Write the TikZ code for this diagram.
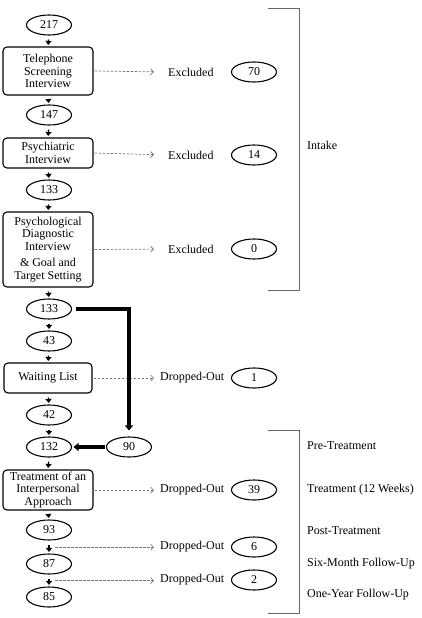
\documentclass[tikz,border=0pt]{standalone}
\usepackage{fontspec}
\setmainfont{Liberation Serif}
\usepackage{tikz}
\usetikzlibrary{shapes.geometric,arrows.meta,positioning,calc}

\begin{document}
\begin{tikzpicture}[
    x=1pt, y=-1pt,
    every node/.style={font=\fontsize{12}{12.5}\selectfont},
    count/.style={ellipse, draw, line width=1.1pt, minimum width=45pt, minimum height=20pt, inner sep=0pt},
    box/.style={rectangle, draw, rounded corners=4pt, line width=1.1pt, minimum width=90pt, align=center, inner sep=1pt},
    label/.style={inner sep=0pt, anchor=west},
    flow/.style={-{Triangle[length=4pt,width=6pt]}, line width=1.3pt, shorten <=4pt, shorten >=1.5pt},
    drop/.style={-{Straight Barb[length=3pt,width=6pt]}, black!55, dashed, dash pattern=on 2.5pt off 1.5pt, line width=0.7pt},
    thick arrow/.style={-{Triangle[length=5pt,width=8pt]}, line width=3.5pt},
    bracket/.style={black!60, line width=0.9pt}
]
\useasboundingbox (0,0) rectangle (422,618);

% main column
\node[count] (n217) at (49,25) {217};
\node[box, minimum height=48pt] (tel) at (48,71) {Telephone\\Screening\\Interview};
\node[count] (n147) at (49,115) {147};
\node[box, minimum height=30pt] (psy) at (48,153) {Psychiatric\\Interview};
\node[count] (n133a) at (49,190) {133};
\node[box, minimum height=75pt] (diag) at (48,249.5) {Psychological\\Diagnostic\\Interview\\[4pt]\& Goal and\\Target Setting};
\node[count] (n133b) at (49,309) {133};
\node[count] (n43) at (49,341) {43};
\node[box, minimum height=30pt, minimum width=88pt] (wait) at (48,378) {Waiting List};
\node[count] (n42) at (49,415) {42};
\node[count] (n132) at (49,447) {132};
\node[count] (n90) at (129,447) {90};
\node[box, minimum height=40pt] (treat) at (48,490) {Treatment of an\\Interpersonal\\Approach};
\node[count] (n93) at (49,530) {93};
\node[count] (n87) at (49,564) {87};
\node[count] (n85) at (49,597) {85};

\foreach \a/\b in {n217/tel, tel/n147, n147/psy, psy/n133a, n133a/diag, diag/n133b,
    n133b/n43, n43/wait, wait/n42, n42/n132, n132/treat, treat/n93, n93/n87, n87/n85}
    \draw[flow] (\a.south) -- (\b.north);

\coordinate (s1) at ($(n93.south)!0.5!(n87.north)$);
\coordinate (s2) at ($(n87.south)!0.5!(n85.north)$);

% exclusions
\node[label] (ex1) at (168,72) {Excluded};
\node[label] (ex2) at (168,155) {Excluded};
\node[label] (ex3) at (168,249) {Excluded};
\node[count] (c70) at (254,72) {70};
\node[count] (c14) at (254,155) {14};
\node[count] (c0) at (254,249) {0};

\node[label] (do1) at (160,378) {Dropped-Out};
\node[label] (do2) at (160,490) {Dropped-Out};
\node[label] (do3) at (160,547) {Dropped-Out};
\node[label] (do4) at (160,580) {Dropped-Out};
\node[count] (c1) at (254,378) {1};
\node[count] (c39) at (254,490) {39};
\node[count] (c6) at (254,547) {6};
\node[count] (c2) at (254,580) {2};

\draw[drop, shorten <=1pt, shorten >=14pt] (tel.east) -- (ex1.west);
\draw[drop, shorten <=1pt, shorten >=14pt] (psy.east) -- (ex2.west);
\draw[drop, shorten <=1pt, shorten >=14pt] (diag.east) -- (ex3.west);
\draw[drop, shorten <=1pt, shorten >=6pt] (wait.east) -- (do1.west);
\draw[drop, shorten <=1pt, shorten >=6pt] (treat.east) -- (do2.west);
\draw[drop, shorten <=6pt, shorten >=6pt] (s1) -- (s1 -| do3.west);
\draw[drop, shorten <=6pt, shorten >=6pt] (s2) -- (s2 -| do4.west);

% waiting list group joins treatment
\draw[thick arrow, shorten <=4pt, shorten >=6pt] (n133b.east) -| (n90.north);
\draw[thick arrow, shorten <=1pt, shorten >=1.5pt] (n90.west) -- (n132.east);

% phases
\draw[bracket] (268,8) -- (299,8) -- (299,290) -- (268,290);
\node[label] (intake) at (307,145) {Intake};
\draw[bracket] (268,430) -- (299,430) -- (299,613) -- (268,613);
\node[label] (pre) at (307,446) {Pre-Treatment};
\node[label] (trt) at (307,490) {Treatment (12 Weeks)};
\node[label] (post) at (307,531) {Post-Treatment};
\node[label] (six) at (307,564) {Six-Month Follow-Up};
\node[label] (year) at (307,595) {One-Year Follow-Up};
\end{tikzpicture}
\end{document}
